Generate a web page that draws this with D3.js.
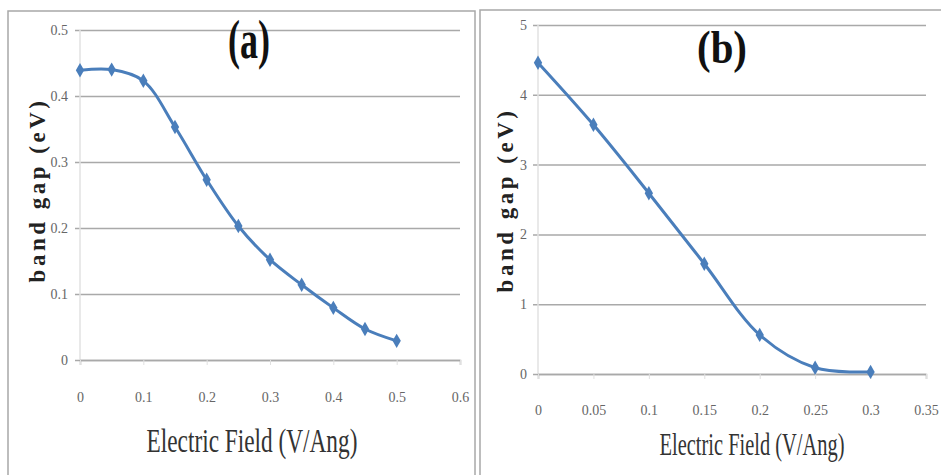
<!DOCTYPE html>
<html>
<head>
<meta charset="utf-8">
<script src="https://cdn.jsdelivr.net/npm/d3@7"></script>
<style>
  body { margin: 0; background: #fff; }
  svg { display: block; }
</style>
</head>
<body>
<svg></svg>
<script>
// panel (a)
let fieldA = [0, 0.05, 0.1, 0.15, 0.2, 0.25, 0.3, 0.35, 0.4, 0.45, 0.5];
let gapA = [0.439, 0.440, 0.423, 0.353, 0.273, 0.203, 0.152, 0.114, 0.079, 0.047, 0.029];
let xTicksA = [0, 0.1, 0.2, 0.3, 0.4, 0.5, 0.6];
let yTicksA = [0, 0.1, 0.2, 0.3, 0.4, 0.5];

// panel (b)
let fieldB = [0, 0.05, 0.1, 0.15, 0.2, 0.25, 0.3];
let gapB = [4.46, 3.57, 2.59, 1.58, 0.56, 0.09, 0.03];
let xTicksB = [0, 0.05, 0.1, 0.15, 0.2, 0.25, 0.3, 0.35];
let yTicksB = [0, 1, 2, 3, 4, 5];

let svgWidth = 941,
    svgHeight = 475;

let svg = d3.select('svg')
            .attr('width', svgWidth)
            .attr('height', svgHeight);

let lineColor = '#4a7ebb';
let serif = "'Liberation Serif', 'Times New Roman', 'DejaVu Serif', serif";

// squeeze a centred text to a given width (the picture's fonts are condensed)
function squeeze(sel, cx, cy, w) {
  let len = sel.node().getComputedTextLength();
  sel.attr('text-anchor', 'middle')
     .attr('transform', `translate(${cx},${cy}) scale(${w / len},1)`);
}

function drawPanel(p) {
  // panel frame
  svg.append('rect')
     .attr('x', p.frame[0]).attr('y', p.frame[1])
     .attr('width', p.frame[2]).attr('height', p.frame[3])
     .attr('fill', 'none')
     .attr('stroke', '#a8a8a8')
     .attr('stroke-width', 1.5);

  let x = d3.scaleLinear().domain(p.xDomain).range([p.left, p.right]);
  let y = d3.scaleLinear().domain(p.yDomain).range([p.bottom, p.top]);

  // gridlines + y labels
  let yAxis = svg.append('g')
     .attr('transform', `translate(${p.left},0)`)
     .call(d3.axisLeft(y).tickValues(p.yTicks)
             .tickSize(-(p.right - p.left))
             .tickFormat(d3.format('')));
  yAxis.select('.domain').remove();
  yAxis.selectAll('.tick line')
       .attr('x1', -5)
       .attr('x2', p.right - p.left)
       .attr('stroke', '#a9a9a9')
       .attr('stroke-width', 1.5);
  yAxis.selectAll('.tick text')
       .attr('x', p.yLabelX - p.left)
       .attr('font-family', serif)
       .attr('font-size', 14)
       .attr('fill', '#666');

  // light vertical axis line
  svg.append('line')
     .attr('x1', p.left).attr('x2', p.left)
     .attr('y1', p.top).attr('y2', p.bottom)
     .attr('stroke', '#e2e2e2').attr('stroke-width', 1.5);

  // x axis
  let xAxis = svg.append('g')
     .attr('transform', `translate(0,${p.bottom})`)
     .call(d3.axisBottom(x).tickValues(p.xTicks)
             .tickSize(5)
             .tickFormat(d3.format('')));
  xAxis.select('.domain')
       .attr('stroke', '#a9a9a9').attr('stroke-width', 1.5);
  xAxis.selectAll('.tick line').attr('stroke', '#e0e0e0');
  xAxis.selectAll('.tick text')
       .attr('y', p.xLabelY - p.bottom)
       .attr('dy', 0)
       .attr('font-family', serif)
       .attr('font-size', 14)
       .attr('fill', '#666');

  // smoothed data line
  let pts = p.xs.map((d, i) => [d, p.ys[i]]);
  let line = d3.line()
               .x(d => x(d[0]))
               .y(d => y(d[1]))
               .curve(d3.curveCatmullRom.alpha(0.5));
  svg.append('path')
     .datum(pts)
     .attr('d', line)
     .attr('fill', 'none')
     .attr('stroke', lineColor)
     .attr('stroke-width', 3);

  // diamond markers
  svg.selectAll(null)
     .data(pts)
     .enter()
     .append('path')
     .attr('d', d3.symbol().type(d3.symbolDiamond).size(60))
     .attr('transform', d => `translate(${x(d[0])},${y(d[1])})`)
     .attr('fill', lineColor);

  // panel title
  let title = svg.append('text')
     .attr('font-family', serif)
     .attr('font-weight', 'bold')
     .attr('font-size', p.titleSize)
     .attr('fill', '#111')
     .text(p.title);
  squeeze(title, p.titleX, p.titleY, p.titleW);

  // axis titles
  let xTitle = svg.append('text')
     .attr('font-family', serif)
     .attr('font-size', p.xTitleSize)
     .attr('fill', '#333')
     .text('Electric Field (V/Ang)');
  squeeze(xTitle, p.xTitleX, p.xTitleY, p.xTitleW);

  svg.append('text')
     .attr('transform', `translate(${p.yTitleX},${p.yTitleY}) rotate(-90)`)
     .attr('text-anchor', 'middle')
     .attr('font-family', serif)
     .attr('font-weight', 'bold')
     .attr('font-size', 23)
     .attr('letter-spacing', 3.5)
     .attr('fill', '#222')
     .text('band gap (eV)');
}

drawPanel({
  frame: [8, 11, 467, 480],
  left: 80, right: 460, top: 30, bottom: 360,
  xDomain: [0, 0.6], yDomain: [0, 0.5],
  xTicks: xTicksA, yTicks: yTicksA,
  xs: fieldA, ys: gapA,
  yLabelX: 68, xLabelY: 402,
  title: '(a)', titleX: 249, titleY: 58, titleW: 42, titleSize: 55,
  xTitleX: 252, xTitleY: 452, xTitleW: 211, xTitleSize: 34,
  yTitleX: 45, yTitleY: 190
});

drawPanel({
  frame: [480, 10, 480, 480],
  left: 538, right: 926, top: 25, bottom: 374,
  xDomain: [0, 0.35], yDomain: [0, 5],
  xTicks: xTicksB, yTicks: yTicksB,
  xs: fieldB, ys: gapB,
  yLabelX: 527, xLabelY: 415,
  title: '(b)', titleX: 722, titleY: 63, titleW: 50, titleSize: 46,
  xTitleX: 752, xTitleY: 455, xTitleW: 185, xTitleSize: 32,
  yTitleX: 513, yTitleY: 200
});
</script>
</body>
</html>
